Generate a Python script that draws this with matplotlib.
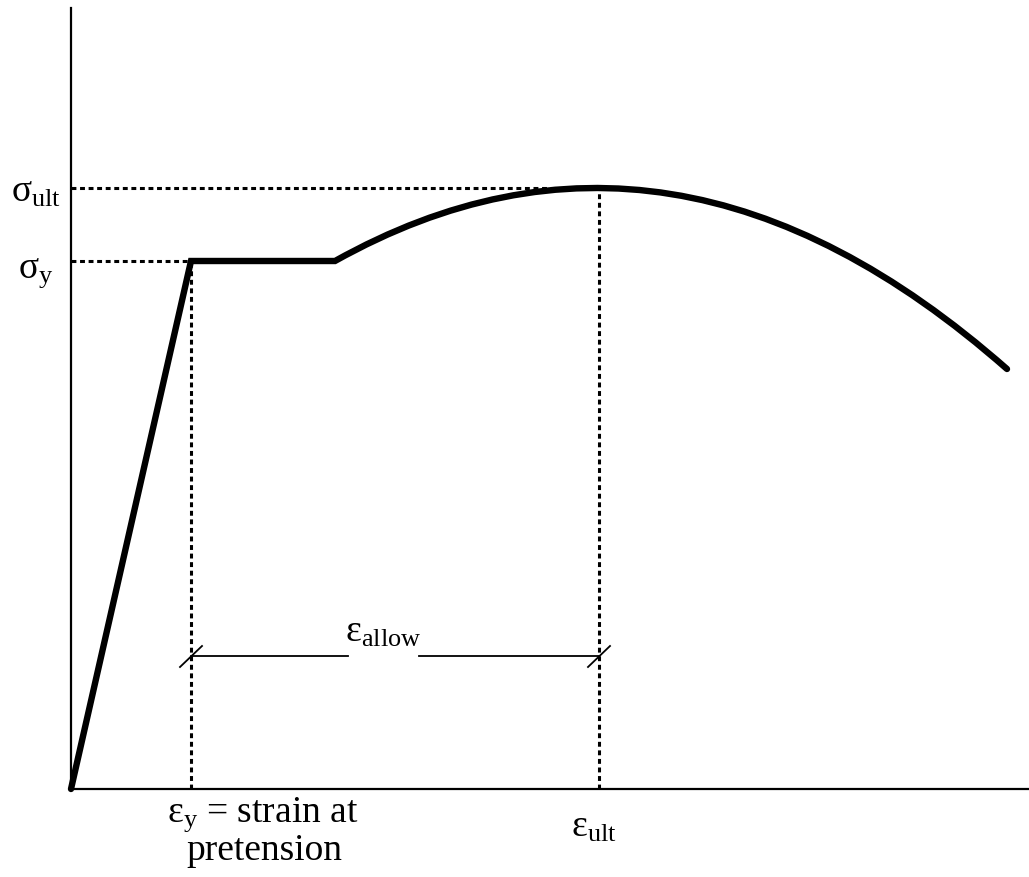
import matplotlib
matplotlib.use('Agg')
from matplotlib import pyplot as plt
from matplotlib.path import Path
from matplotlib.patches import PathPatch

plt.rcParams['font.family'] = ['Liberation Serif', 'DejaVu Serif']
plt.rcParams['mathtext.fontset'] = 'custom'
plt.rcParams['mathtext.rm'] = 'Liberation Serif'
plt.rcParams['mathtext.it'] = 'Liberation Serif'

# key points of the stress-strain curve (pixel-like units)
# origin -> yield -> end of plateau -> (hardening curve, control point) -> end
curve_strain = [0, 120, 264, 600, 936]
curve_stress = [0, 528, 528, 716, 420]

eps_y = 120
eps_ult = 528
sig_y = 528
sig_ult = 601
allow_level = 133
allow_gap = [277, 348]

fig = plt.figure(figsize=(10.29, 8.78), dpi=100)
ax = fig.add_axes([71 / 1029, 88 / 878, 958 / 1029, 781 / 878])
ax.set_xlim(0, 958)
ax.set_ylim(0, 781)
for s in ['top', 'right']:
    ax.spines[s].set_visible(False)
for s in ['left', 'bottom']:
    ax.spines[s].set_linewidth(1.6)
ax.set_xticks([])
ax.set_yticks([])

# main curve: straight elastic part, plateau, then a smooth hardening/softening arc
verts = list(zip(curve_strain, curve_stress))
codes = [Path.MOVETO, Path.LINETO, Path.LINETO, Path.CURVE3, Path.CURVE3]
curve = PathPatch(Path(verts, codes), facecolor='none', edgecolor='black', lw=4.6,
                  capstyle='round', joinstyle='miter', clip_on=False, zorder=5)
ax.add_patch(curve)

# dashed guides
dash = dict(color='black', lw=2.2, ls=(0, (1.6, 1.2)), zorder=3)
ax.plot([0, eps_ult], [sig_ult, sig_ult], **dash)
ax.plot([eps_ult, eps_ult], [0, sig_ult], **dash)
ax.plot([0, eps_y], [sig_y, sig_y], **dash)
ax.plot([eps_y, eps_y], [0, sig_y], **dash)

# allowable strain dimension
ax.plot([eps_y, allow_gap[0]], [allow_level, allow_level], color='black', lw=1.3)
ax.plot([allow_gap[1], eps_ult], [allow_level, allow_level], color='black', lw=1.3)
for xe in [eps_y, eps_ult]:
    ax.plot([xe - 11, xe + 11], [allow_level - 11, allow_level + 10], color='black', lw=1.3)

fs = 27
ax.text(312, 148, r'$\mathrm{ε_{allow}}$', fontsize=fs, ha='center', va='baseline')
ax.text(192, -32, r'$\mathrm{ε_y}$ = strain at', fontsize=fs, ha='center', va='baseline')
ax.text(193, -70, 'pretension', fontsize=fs, ha='center', va='baseline')
ax.text(523, -47, r'$\mathrm{ε_{ult}}$', fontsize=fs, ha='center', va='baseline')
ax.text(-35, 588, r'$\mathrm{σ_{ult}}$', fontsize=fs, ha='center', va='baseline')
ax.text(-35, 512, r'$\mathrm{σ_y}$', fontsize=fs, ha='center', va='baseline')

fig.savefig('out.png', dpi=100)
